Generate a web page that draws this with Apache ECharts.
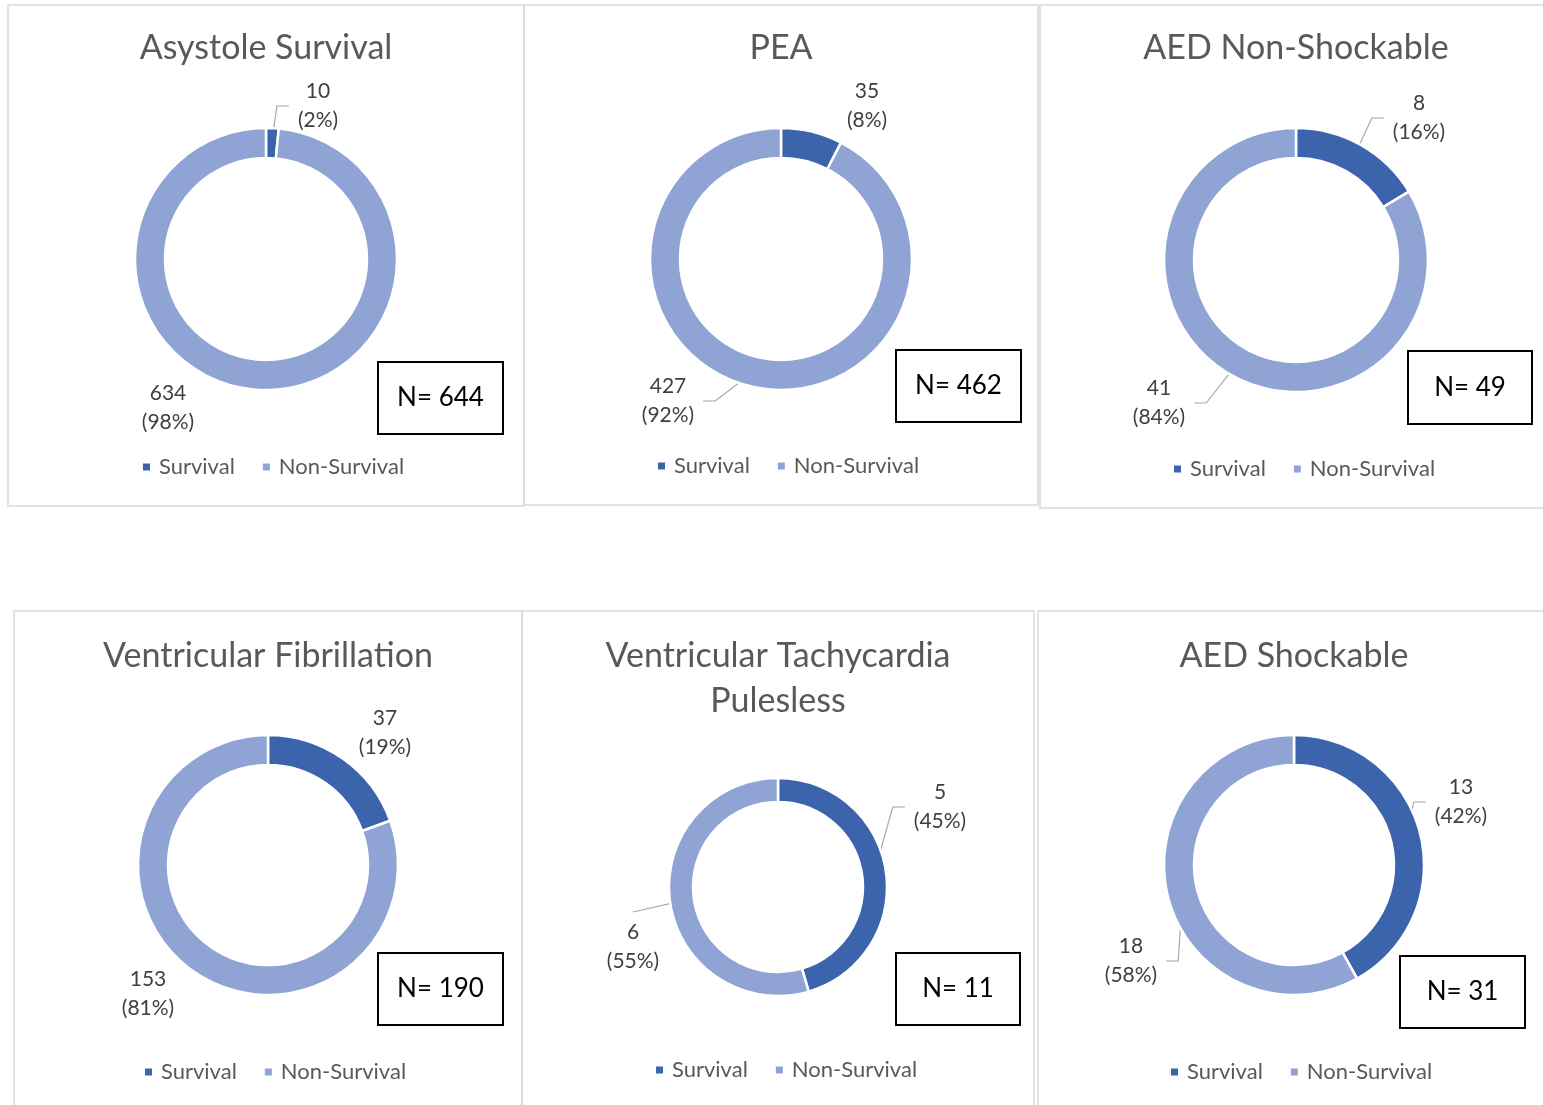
<!DOCTYPE html>
<html>
<head>
<meta charset="utf-8">
<script src="https://cdn.jsdelivr.net/npm/echarts@6/dist/echarts.min.js"></script>
<style>
  html, body { margin: 0; padding: 0; background: #fff; }
  #chart { width: 1543px; height: 1105px; }
</style>
</head>
<body>
<div id="chart"></div>
<script>
// chart data
const titles = ['Asystole Survival', 'PEA', 'AED Non-Shockable', 'Ventricular Fibrillation', 'Ventricular Tachycardia\nPulesless', 'AED Shockable'];
const categories = ['Survival', 'Non-Survival'];
const survival = [10, 35, 8, 37, 5, 13];
const nonSurvival = [634, 427, 41, 153, 6, 18];
const totals = [644, 462, 49, 190, 11, 31];

// layout of each panel (pixels); lines: leader line style per label (null = none)
const panels = [
  { box: [8, 5, 516, 501], center: [266, 259], r: [101, 131], title: [266, 48], legend: [141, 467], nbox: [378, 362, 125, 72],
    labels: [[318, 106], [168, 408]], lines: ['side', null] },
  { box: [524, 5, 514, 500], center: [781, 259], r: [101, 131], title: [781, 48], legend: [656, 466], nbox: [896, 350, 125, 72],
    labels: [[867, 106], [668, 401]], lines: [null, 'side'] },
  { box: [1040, 5, 520, 503], center: [1296, 260], r: [102, 132], title: [1296, 48], legend: [1172, 469], nbox: [1408, 351, 124, 73],
    labels: [[1419, 118], [1159, 403]], lines: ['side', 'side'] },
  { box: [14, 611, 508, 520], center: [268, 865], r: [100, 130], title: [268, 656], legend: [143, 1072], nbox: [378, 953, 125, 72],
    labels: [[385, 733], [148, 994]], lines: [null, null] },
  { box: [522, 611, 512, 520], center: [778, 887], r: [85, 109], title: [778, 656], legend: [654, 1070], nbox: [896, 953, 124, 72],
    labels: [[940, 807], [633, 947]], lines: ['side', 'top'] },
  { box: [1038, 611, 520, 520], center: [1294, 865], r: [100, 130], title: [1294, 656], legend: [1169, 1072], nbox: [1400, 956, 125, 72],
    labels: [[1461, 802], [1131, 961]], lines: ['side', 'side'] }
];

const colors = ['#3c64ad', '#8fa4d4'];
const font = 'Lato, "Open Sans", sans-serif';

const chart = echarts.init(document.getElementById('chart'));

const graphic = [];
const legends = [];
const series = [];

// point in the middle of the ring at the middle angle of a slice
function sliceMid(p, i, idx) {
  const total = survival[i] + nonSurvival[i];
  const frac = idx === 0 ? survival[i] / 2 / total : (survival[i] + nonSurvival[i] / 2) / total;
  const a = frac * Math.PI * 2;
  const rm = (p.r[0] + p.r[1]) / 2;
  return [p.center[0] + rm * Math.sin(a), p.center[1] - rm * Math.cos(a)];
}

panels.forEach((p, i) => {
  // panel frame
  graphic.push({
    type: 'rect', silent: true, z: 0,
    shape: { x: p.box[0], y: p.box[1], width: p.box[2], height: p.box[3] },
    style: { fill: 'none', stroke: '#d9d9d9', lineWidth: 1.5 }
  });
  // title
  const nLines = titles[i].split('\n').length;
  graphic.push({
    type: 'text', silent: true, z: 5,
    x: p.title[0], y: p.title[1] + (nLines - 1) * 45 / 2,
    style: { text: titles[i], font: '34px ' + font, fill: '#595959', align: 'center', verticalAlign: 'middle', lineHeight: 45 }
  });
  // N box
  graphic.push({
    type: 'rect', silent: true, z: 5,
    shape: { x: p.nbox[0], y: p.nbox[1], width: p.nbox[2], height: p.nbox[3] },
    style: { fill: '#fff', stroke: '#000', lineWidth: 2 }
  });
  graphic.push({
    type: 'text', silent: true, z: 6,
    x: p.nbox[0] + p.nbox[2] / 2, y: p.nbox[1] + p.nbox[3] / 2,
    style: { text: 'N= ' + totals[i], font: '26px ' + font, fill: '#000', align: 'center', verticalAlign: 'middle' }
  });

  legends.push({
    left: p.legend[0], top: p.legend[1] - 12,
    orient: 'horizontal',
    data: categories,
    selectedMode: false,
    icon: 'rect', itemWidth: 9, itemHeight: 9, itemGap: 26,
    padding: 0,
    textStyle: { fontFamily: font, fontSize: 22, color: '#595959', lineHeight: 24, padding: [0, 0, 0, 3] }
  });

  series.push({
    type: 'pie',
    center: p.center,
    radius: p.r,
    startAngle: 90,
    clockwise: true,
    avoidLabelOverlap: false,
    emphasis: { disabled: true },
    itemStyle: { borderColor: '#fff', borderWidth: 2.5 },
    label: {
      show: true,
      position: 'outside',
      fontFamily: font, fontSize: 21, lineHeight: 29, color: '#404040',
      formatter: (d) => d.value + '\n(' + Math.round(d.percent) + '%)'
    },
    labelLine: { lineStyle: { color: '#a6a6a6', width: 1.2 }, length: 10, length2: 10 },
    labelLayout: (params) => {
      const k = params.dataIndex;
      const pos = p.labels[k];
      const out = { x: pos[0], y: pos[1], align: 'center', verticalAlign: 'middle' };
      const mode = p.lines[k];
      if (mode) {
        const w = params.labelRect.width, h = params.labelRect.height;
        const s = sliceMid(p, i, k);
        if (mode === 'top') {
          const e = [pos[0], pos[1] - h / 2 - 6];
          out.labelLinePoints = [s, e, e];
        } else if (s[0] < pos[0]) {
          const e = [pos[0] - w / 2 - 9, pos[1]];
          out.labelLinePoints = [s, [e[0] - 12, e[1]], e];
        } else {
          const e = [pos[0] + w / 2 + 9, pos[1]];
          out.labelLinePoints = [s, [e[0] + 12, e[1]], e];
        }
      }
      return out;
    },
    data: [
      { name: categories[0], value: survival[i], itemStyle: { color: colors[0] }, labelLine: { show: !!p.lines[0] } },
      { name: categories[1], value: nonSurvival[i], itemStyle: { color: colors[1] }, labelLine: { show: !!p.lines[1] } }
    ]
  });
});

chart.setOption({
  animation: false,
  color: colors,
  legend: legends,
  graphic: graphic,
  series: series
});

window.addEventListener('resize', () => chart.resize());
</script>
</body>
</html>
